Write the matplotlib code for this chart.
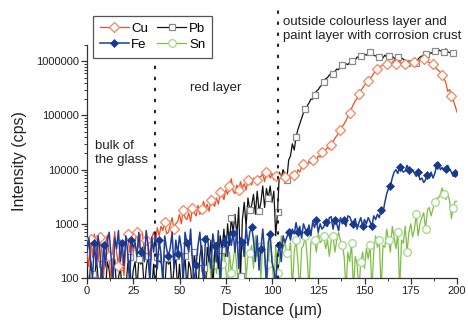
import numpy as np
import matplotlib
matplotlib.use("Agg")
import matplotlib.pyplot as plt
from matplotlib.ticker import FixedLocator, FuncFormatter, MultipleLocator, LogLocator, NullFormatter

plt.rcParams['font.family'] = ['Liberation Sans', 'DejaVu Sans']

distance = np.arange(0, 201, 1)  # micrometres, 1 um step

cu = [300, 160, 520, 240, 650, 380, 200, 560, 300, 110,
      450, 620, 250, 80, 360, 720, 300, 170, 500, 260,
      110, 420, 650, 300, 560, 290, 460, 720, 360, 680,
      650, 300, 500, 420, 250, 550, 700, 480, 850, 600,
      900, 750, 1100, 650, 700, 950, 1300, 800, 1000, 1100,
      1500, 1000, 1800, 1300, 1200, 1600, 1100, 2000, 1600, 1400,
      2200, 1500, 1900, 2600, 1900, 2300, 1700, 2800, 2450, 2100,
      3000, 2300, 3800, 3600, 2800, 4200, 3500, 5000, 6800, 4000,
      3600, 5200, 4300, 6000, 4600, 5500, 4200, 6500, 6000, 5200,
      7000, 5800, 6500, 7400, 7400, 8500, 6000, 9000, 9200, 7000,
      8500, 6500, 7500, 7000, 8000, 6800, 7800, 7200, 8200, 7600,
      7800, 9000, 8000, 7400, 10000, 9000, 11000, 12500, 13500, 12000,
      14000, 13000, 15000, 16000, 14500, 18000, 17000, 21000, 20000, 23000,
      26000, 24000, 29000, 33000, 38000, 42000, 48000, 55000, 62000, 70000,
      80000, 95000, 112000, 135000, 160000, 185000, 210000, 250000, 290000, 320000,
      360000, 400000, 430000, 480000, 530000, 600000, 650000, 710000, 760000, 820000,
      870000, 940000, 910000, 1000000, 880000, 950000, 1050000, 900000, 980000, 1000000,
      930000, 870000, 910000, 980000, 1000000, 920000, 900000, 960000, 1050000, 1000000,
      1100000, 1050000, 1100000, 1000000, 1000000, 950000, 870000, 900000, 800000, 720000,
      680000, 630000, 560000, 480000, 400000, 280000, 300000, 230000, 190000, 150000,
      115000]

pb = [150, 60, 200, 120, 60, 250, 100, 60, 180, 80,
      60, 200, 140, 60, 120, 220, 60, 100, 160, 60,
      100, 60, 180, 240, 60, 140, 200, 60, 220, 180,
      200, 60, 150, 260, 90, 60, 180, 60, 240, 200,
      200, 120, 60, 230, 180, 200, 60, 150, 250, 60,
      180, 60, 120, 260, 60, 200, 150, 60, 300, 120,
      60, 250, 400, 150, 60, 370, 200, 500, 60, 300,
      450, 150, 600, 330, 800, 250, 1000, 400, 1300, 700,
      1500, 600, 2000, 110, 1200, 2500, 900, 3000, 1800, 2200,
      3500, 1500, 4000, 1700, 2500, 5000, 2000, 4500, 3000, 5000,
      2500, 4000, 600, 1650, 9000, 7000, 10000, 8000, 6500, 15000,
      18000, 30000, 23000, 40000, 55000, 70000, 90000, 112000, 130000, 150000,
      170000, 200000, 200000, 240000, 280000, 300000, 340000, 370000, 420000, 480000,
      500000, 560000, 600000, 580000, 650000, 720000, 700000, 800000, 850000, 820000,
      900000, 870000, 950000, 1000000, 1100000, 1050000, 1200000, 1150000, 1250000, 1300000,
      1350000, 1300000, 1400000, 1500000, 1350000, 1300000, 1250000, 1300000, 1200000, 1250000,
      1150000, 1300000, 1200000, 1250000, 1100000, 1250000, 1150000, 1050000, 1200000, 1300000,
      1150000, 1100000, 1000000, 950000, 1000000, 900000, 950000, 850000, 950000, 1100000,
      1200000, 1250000, 1300000, 1350000, 1300000, 1450000, 1400000, 1500000, 1550000, 1600000,
      1650000, 1550000, 1600000, 1500000, 1700000, 1500000, 1450000, 1400000, 1450000, 1350000,
      1400000]

fe = [300, 550, 200, 100, 450, 170, 600, 300, 80, 400,
      170, 500, 700, 250, 80, 550, 350, 750, 200, 450,
      170, 600, 300, 80, 500, 370, 450, 250, 700, 300,
      370, 200, 750, 400, 80, 570, 300, 650, 150, 500,
      280, 80, 600, 350, 250, 360, 700, 150, 500, 280,
      600, 350, 80, 700, 440, 300, 800, 200, 80, 175,
      400, 700, 250, 80, 520, 600, 300, 150, 650, 390,
      200, 750, 80, 350, 460, 600, 250, 700, 400, 680,
      300, 800, 150, 550, 460, 250, 900, 400, 700, 880,
      500, 200, 600, 140, 350, 800, 300, 80, 460, 650,
      200, 140, 80, 270, 400, 200, 600, 450, 570, 700,
      500, 800, 650, 1050, 700, 900, 550, 1000, 800, 700,
      950, 600, 1100, 850, 1200, 700, 1000, 800, 880, 1100,
      900, 1300, 1350, 800, 1200, 1000, 750, 1300, 1000, 1200,
      900, 1400, 1350, 1100, 1000, 1250, 800, 1050, 1300, 900,
      1200, 1000, 1300, 1100, 900, 1400, 1200, 1500, 1300, 1800,
      1600, 2500, 3600, 4500, 5000, 7000, 9000, 10000, 8500, 11000,
      10000, 9000, 9500, 12000, 10000, 9000, 10000, 8500, 7500, 9000,
      6500, 7000, 5800, 6500, 8000, 7000, 9000, 7000, 8500, 12000,
      13500, 10000, 11000, 9500, 10500, 12000, 10000, 9000, 7500, 8500,
      8000]

sn_first = 64  # Sn is below the axis before this distance
sn = [60, 150, 250, 100, 175, 300,
      120, 250, 60, 180, 350, 150, 60, 300, 125, 200,
      400, 150, 60, 300, 290, 500, 100, 250, 290, 400,
      150, 600, 250, 370, 100, 450, 300, 60, 180, 500,
      250, 60, 400, 125, 200, 600, 350, 450, 290, 250,
      450, 60, 300, 500, 200, 60, 350, 400, 600, 250,
      60, 450, 490, 500, 300, 700, 450, 490, 600, 350,
      500, 250, 490, 600, 300, 500, 700, 490, 400, 250,
      60, 300, 200, 450, 60, 250, 180, 60, 200, 300,
      150, 350, 225, 400, 60, 300, 600, 370, 500, 60,
      400, 370, 800, 500, 300, 900, 570, 350, 700, 60,
      500, 440, 900, 300, 700, 1000, 570, 800, 1500, 600,
      1000, 1300, 1600, 800, 1800, 2000, 1400, 1900, 2500, 3000,
      3000, 3500, 4600, 3500, 2800, 3500, 2700, 1250, 2000, 2600,
      2600]

boundaries = [37, 103]
y_ticks = [100, 1000, 10000, 100000, 1000000]
x_ticks = [0, 25, 50, 75, 100, 125, 150, 175, 200]

fig = plt.figure(figsize=(4.68, 3.21), dpi=100)
ax = fig.add_axes([87/468, 43/321, 370/468, 233/321])

c_cu, c_cu_m = '#F04E23', '#F4845F'
c_pb, c_pb_m = '#111111', '#8A8A8A'
c_fe, c_fe_m = '#1F3D99', '#173A8E'
c_sn, c_sn_m = '#7DBF45', '#A6D68A'

ax.plot(distance[sn_first:], sn, color=c_sn, lw=0.9, marker='o', ms=5.5,
        mfc='white', mec=c_sn_m, mew=0.9, markevery=(4, 5), label='Sn', zorder=2)
ax.plot(distance, pb, color=c_pb, lw=0.9, marker='s', ms=5,
        mfc='white', mec=c_pb_m, mew=0.9, markevery=(3, 5), label='Pb', zorder=3)
ax.plot(distance, cu, color=c_cu, lw=0.9, marker='D', ms=5,
        mfc='white', mec=c_cu_m, mew=0.9, markevery=(2, 5), label='Cu', zorder=4)
ax.plot(distance, fe, color=c_fe, lw=1.1, marker='D', ms=4,
        mfc=c_fe_m, mec=c_fe_m, mew=0.5, markevery=(4, 5), label='Fe', zorder=5)

ax.set_yscale('log')
ax.set_xlim(0, 200)
ax.set_ylim(100, 2e6)

# dotted boundaries
ax.plot([boundaries[0]] * 2, [100, 8.5e5], color='#222222', lw=1.5,
        linestyle=(0, (0.8, 4.5)), dash_capstyle='round', clip_on=False, zorder=6)
ax.plot([boundaries[1]] * 2, [100, 8.7e6], color='#222222', lw=1.5,
        linestyle=(0, (0.8, 4.5)), dash_capstyle='round', clip_on=False, zorder=6)

ax.text(4.3, 2.0e4, 'bulk of\nthe glass', fontsize=9.5, va='center', ha='left', color='#222222')
ax.text(55.7, 3.2e5, 'red layer', fontsize=9.5, va='center', ha='left', color='#222222')
ax.text(106, 4.0e6, 'outside colourless layer and\npaint layer with corrosion crust',
        fontsize=9.5, va='center', ha='left', color='#222222', clip_on=False)

ax.spines['top'].set_visible(False)
ax.spines['right'].set_visible(False)
for s in ('left', 'bottom'):
    ax.spines[s].set_color('#333333')
    ax.spines[s].set_linewidth(0.9)

ax.xaxis.set_major_locator(FixedLocator(x_ticks))
ax.xaxis.set_minor_locator(MultipleLocator(12.5))
ax.yaxis.set_major_locator(FixedLocator(y_ticks))
ax.yaxis.set_minor_locator(LogLocator(base=10, subs=np.arange(2, 10), numticks=20))
ax.yaxis.set_major_formatter(FuncFormatter(lambda v, p: f"{int(round(v))}"))
ax.yaxis.set_minor_formatter(NullFormatter())
ax.tick_params(axis='both', which='major', direction='out', length=4, width=0.9,
               labelsize=8, colors='#333333', labelcolor='#222222', pad=2)
ax.tick_params(axis='both', which='minor', direction='out', length=2, width=0.7,
               colors='#333333')

ax.set_xlabel('Distance (\u03bcm)', fontsize=11.5, color='#222222', labelpad=5)
ax.set_ylabel('Intensity (cps)', fontsize=11.5, color='#222222', labelpad=6)

h, l = ax.get_legend_handles_labels()
order = [l.index('Cu'), l.index('Fe'), l.index('Pb'), l.index('Sn')]
leg = fig.legend([h[i] for i in order], [l[i] for i in order], ncol=2,
                 loc='upper left', bbox_to_anchor=(93/468, 1 - 16/321),
                 fontsize=9.5, frameon=True, fancybox=False, framealpha=1,
                 edgecolor='#555555', handlelength=2.2, handletextpad=0.2,
                 columnspacing=0.7, borderpad=0.5, labelspacing=0.3,
                 borderaxespad=0)
leg.get_frame().set_linewidth(0.9)

fig.savefig('out.png', dpi=100)
